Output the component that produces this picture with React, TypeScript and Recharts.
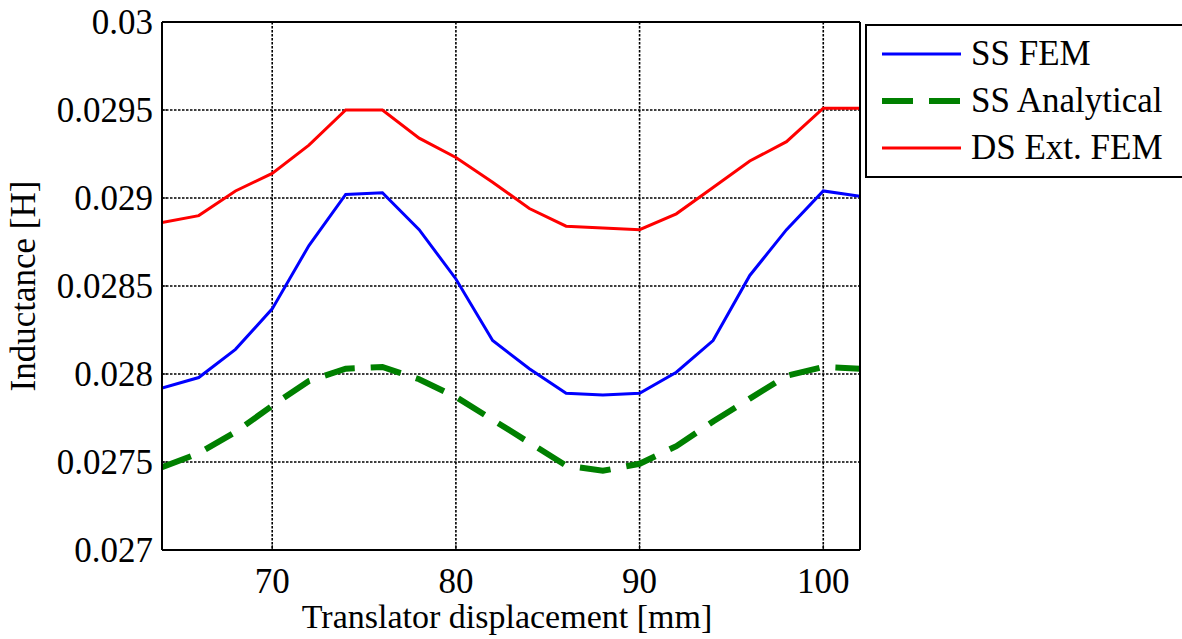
import { LineChart, Line, XAxis, YAxis, CartesianGrid, Legend } from 'recharts';

// translator displacement [mm]
const displacement = [64, 66, 68, 70, 72, 74, 76, 78, 80, 82, 84, 86, 88, 90, 92, 94, 96, 98, 100, 102];

// inductance [H]
const ssFem = [
  0.02792, 0.02798, 0.02814, 0.02837, 0.02873, 0.02902, 0.02903, 0.02882, 0.02854, 0.02819,
  0.02803, 0.02789, 0.02788, 0.02789, 0.02801, 0.02819, 0.02856, 0.02882, 0.02904, 0.02901,
];
const ssAnalytical = [
  0.02747, 0.02755, 0.02767, 0.02782, 0.02796, 0.02803, 0.02804, 0.02797, 0.02787, 0.02774,
  0.02761, 0.02748, 0.02745, 0.02749, 0.02759, 0.02773, 0.02786, 0.02799, 0.02804, 0.02803,
];
const dsExtFem = [
  0.02886, 0.0289, 0.02904, 0.02914, 0.0293, 0.0295, 0.0295, 0.02934, 0.02923, 0.02909,
  0.02894, 0.02884, 0.02883, 0.02882, 0.02891, 0.02906, 0.02921, 0.02932, 0.02951, 0.02951,
];

const xTicks = [70, 80, 90, 100];
const yTicks = [0.027, 0.0275, 0.028, 0.0285, 0.029, 0.0295, 0.03];

const series = [
  { key: 'ssFem', name: 'SS FEM', color: '#0000ff', width: 3, dash: undefined },
  { key: 'ssAnalytical', name: 'SS Analytical', color: '#008000', width: 6, dash: '31 16' },
  { key: 'dsExtFem', name: 'DS Ext. FEM', color: '#ff0000', width: 3, dash: undefined },
];

const data = displacement.map((x, i) => ({
  x,
  ssFem: ssFem[i],
  ssAnalytical: ssAnalytical[i],
  dsExtFem: dsExtFem[i],
}));

const FONT = '"Liberation Serif", "Times New Roman", Times, serif';
const TEXT_STYLE = { fontFamily: FONT, fontSize: 35 };
const TICK_LEN = 5;
const X_GAP = 18;
const Y_GAP = 9;

// bottom tick: label plus a short inward tick mark
const BottomTick = ({ x, y, payload }: any) => (
  <g>
    <line x1={x} x2={x} y1={y - X_GAP} y2={y - X_GAP - TICK_LEN} stroke="#000" strokeWidth={1} />
    <text x={x} y={y} dy="0.71em" textAnchor="middle" fontFamily={FONT} fontSize={35} style={TEXT_STYLE} fill="#000">
      {payload.value}
    </text>
  </g>
);

const LeftTick = ({ x, y, payload }: any) => (
  <g>
    <line x1={x + Y_GAP} x2={x + Y_GAP + TICK_LEN} y1={y} y2={y} stroke="#000" strokeWidth={1} />
    <text x={x} y={y} dy="0.355em" textAnchor="end" fontFamily={FONT} fontSize={35} style={TEXT_STYLE} fill="#000">
      {String(payload.value)}
    </text>
  </g>
);

const XLabel = ({ viewBox }: any) => (
  <text
    x={viewBox.x + viewBox.width / 2 - 4}
    y={viewBox.y + viewBox.height - 11}
    textAnchor="middle"
    style={{ fontFamily: FONT, fontSize: 34 }}
    fill="#000"
  >
    Translator displacement [mm]
  </text>
);

const YLabel = ({ viewBox }: any) => {
  const cx = viewBox.x + 35;
  const cy = viewBox.y + viewBox.height / 2;
  return (
    <text
      x={cx}
      y={cy}
      transform={`rotate(-90, ${cx}, ${cy})`}
      textAnchor="middle"
      style={TEXT_STYLE}
      fill="#000"
    >
      Inductance [H]
    </text>
  );
};

const LegendBox = () => (
  <div
    style={{
      boxSizing: 'border-box',
      width: 317,
      border: '2px solid #000',
      borderRight: 'none',
      padding: '4px 0 5px',
      background: '#fff',
    }}
  >
    {series.map((s) => (
      <div key={s.key} style={{ display: 'flex', alignItems: 'center', height: 47 }}>
        <svg width={79} height={10} style={{ marginLeft: 15, marginRight: 10, display: 'block' }}>
          <line x1={0} x2={79} y1={5} y2={5} stroke={s.color} strokeWidth={s.width} strokeDasharray={s.dash} />
        </svg>
        <span style={{ ...TEXT_STYLE, color: '#000', lineHeight: '47px', whiteSpace: 'nowrap' }}>
          {s.name}
        </span>
      </div>
    ))}
  </div>
);

export default function App() {
  return (
    <div style={{ position: 'absolute', left: 0, top: 0, width: 1182, height: 639, overflow: 'hidden', background: '#fff', fontFamily: FONT }}>
      <LineChart
        width={1182}
        height={639}
        data={data}
        margin={{ top: 22, right: 322, bottom: 0, left: 0 }}
        style={{ fontFamily: FONT }}
      >
        <CartesianGrid stroke="#000" strokeDasharray="2.5 1.5" strokeWidth={1.6} />
        <XAxis
          dataKey="x"
          type="number"
          domain={[64, 102]}
          ticks={xTicks}
          allowDataOverflow
          height={89}
          tickSize={0}
          tickMargin={X_GAP}
          tickLine={false}
          tick={BottomTick}
          axisLine={{ stroke: '#000', strokeWidth: 2 }}
          label={XLabel}
        />
        <XAxis
          xAxisId="top"
          orientation="top"
          mirror
          type="number"
          domain={[64, 102]}
          ticks={xTicks}
          allowDataOverflow
          tick={false}
          tickSize={TICK_LEN}
          tickLine={{ stroke: '#000' }}
          axisLine={{ stroke: '#000', strokeWidth: 2 }}
        />
        <YAxis
          type="number"
          domain={[0.027, 0.03]}
          ticks={yTicks}
          allowDataOverflow
          width={162}
          tickSize={0}
          tickMargin={Y_GAP}
          tickLine={false}
          tick={LeftTick}
          axisLine={{ stroke: '#000', strokeWidth: 2 }}
          label={YLabel}
        />
        <YAxis
          yAxisId="right"
          orientation="right"
          mirror
          type="number"
          domain={[0.027, 0.03]}
          ticks={yTicks}
          allowDataOverflow
          tick={false}
          tickSize={TICK_LEN}
          tickLine={{ stroke: '#000' }}
          axisLine={{ stroke: '#000', strokeWidth: 2 }}
        />
        {series.map((s) => (
          <Line
            key={s.key}
            type="linear"
            dataKey={s.key}
            name={s.name}
            stroke={s.color}
            strokeWidth={s.width}
            strokeDasharray={s.dash}
            dot={false}
            activeDot={false}
            isAnimationActive={false}
          />
        ))}
        <Legend
          content={LegendBox}
          layout="vertical"
          align="center"
          verticalAlign="middle"
          wrapperStyle={{ left: 865, top: 24, width: 317 }}
        />
      </LineChart>
    </div>
  );
}
